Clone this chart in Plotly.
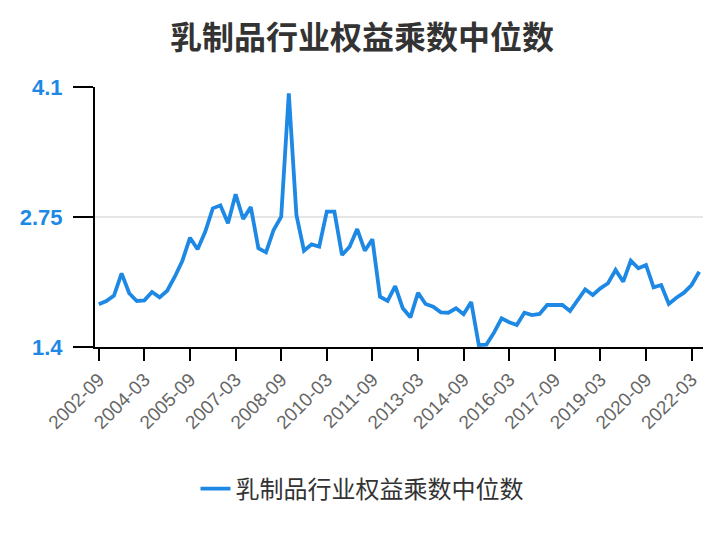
import plotly.graph_objects as go

title_text = "乳制品行业权益乘数中位数"
series_name = "乳制品行业权益乘数中位数"

# quarterly categories 2002-09 .. 2022-06
months = ["03", "06", "09", "12"]
categories = []
for yr in range(2002, 2023):
    for m in months:
        lab = f"{yr}-{m}"
        if "2002-09" <= lab <= "2022-06":
            categories.append(lab)

values = [
    1.843, 1.878, 1.933, 2.165, 1.958, 1.878, 1.885, 1.971, 1.916, 1.985,
    2.130, 2.296, 2.535, 2.415, 2.597, 2.840, 2.871, 2.685, 2.986, 2.729,
    2.854, 2.425, 2.383, 2.615, 2.753, 4.035, 2.771, 2.400, 2.466, 2.442,
    2.805, 2.805, 2.355, 2.442, 2.625, 2.400, 2.518, 1.922, 1.878, 2.033,
    1.802, 1.708, 1.964, 1.847, 1.819, 1.760, 1.756, 1.802, 1.740, 1.867,
    1.421, 1.425, 1.549, 1.698, 1.656, 1.628, 1.756, 1.732, 1.743, 1.836,
    1.836, 1.836, 1.774, 1.881, 1.999, 1.940, 2.009, 2.062, 2.200, 2.078,
    2.296, 2.217, 2.252, 2.020, 2.044, 1.847, 1.912, 1.964, 2.044, 2.182,
]

tick_labels = categories[::6]
y_ticks = [1.4, 2.75, 4.1]
y_tick_text = ["1.4", "2.75", "4.1"]

blue = "#1E88E5"

fig = go.Figure()
fig.add_trace(go.Scatter(
    x=categories, y=values, mode="lines", name=series_name,
    line=dict(color=blue, width=3.8),
))

fig.update_layout(
    width=724, height=540,
    margin=dict(l=95, r=21, t=87, b=193),
    paper_bgcolor="white", plot_bgcolor="white",
    title=dict(
        text=title_text, x=0.5, xref="container", xanchor="center",
        y=1 - 38 / 540, yref="container", yanchor="middle",
        font=dict(family="Noto Sans CJK SC", size=32, color="#333333", weight=600),
    ),
    showlegend=True,
    legend=dict(
        orientation="h", xref="container", yref="container",
        x=0.5, xanchor="center", y=1 - 489 / 540, yanchor="middle",
        font=dict(family="Noto Sans CJK SC", size=24, color="#333333"),
        itemwidth=30,
    ),
    xaxis=dict(
        type="category", range=[-0.5, len(categories) - 0.5],
        tickmode="array", tickvals=tick_labels, ticktext=tick_labels,
        tickangle=-45, ticks="outside", ticklen=12, tickwidth=2, tickcolor="black",
        showline=True, linecolor="black", linewidth=2, showgrid=False,
        tickfont=dict(family="Liberation Sans", size=19, color="#666666"),
        zeroline=False,
    ),
    yaxis=dict(
        range=[1.4, 4.1], tickmode="array", tickvals=y_ticks, ticktext=y_tick_text,
        ticks="outside", ticklen=20, tickwidth=2, tickcolor="black",
        ticklabelstandoff=6,
        showline=True, linecolor="black", linewidth=2,
        showgrid=True, gridcolor="#e6e6e6", gridwidth=2,
        tickfont=dict(family="Liberation Sans", size=22, color=blue, weight="bold"),
        zeroline=False,
    ),
)

fig.write_html("out.html", config={"displayModeBar": False},
               post_script="document.body.style.margin='0';")
